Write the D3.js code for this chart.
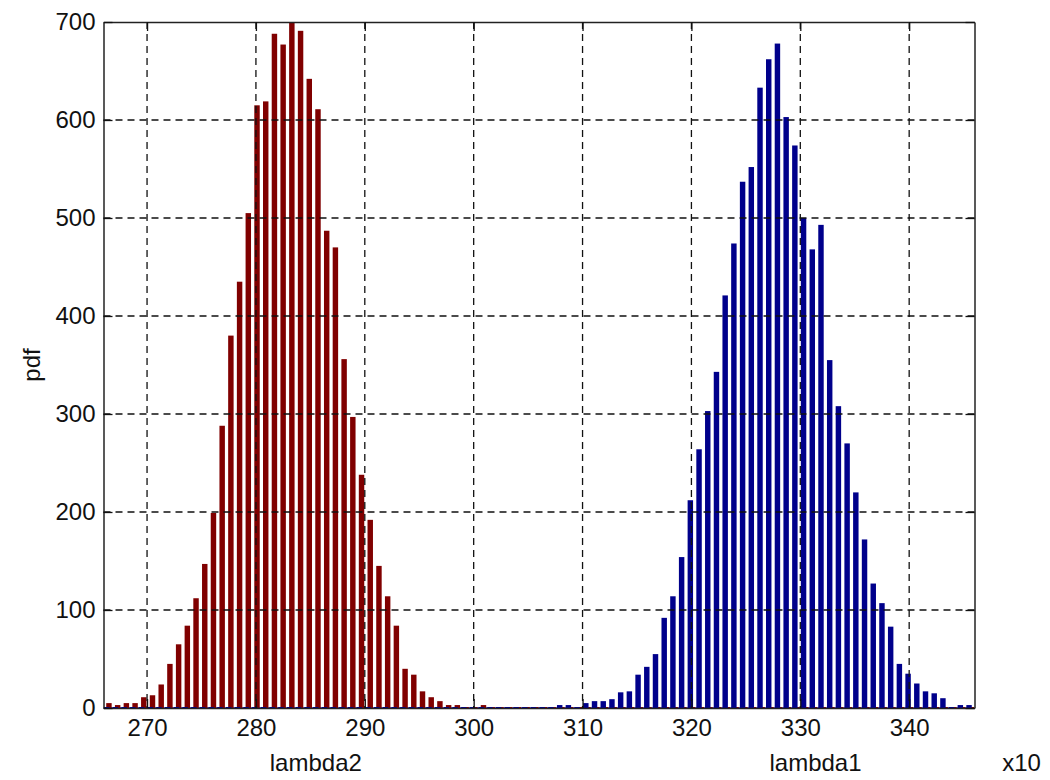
<!DOCTYPE html>
<html>
<head>
<meta charset="utf-8">
<script src="https://cdn.jsdelivr.net/npm/d3@7"></script>
<style>
  body { margin: 0; background: #fff; }
  svg text { font-family: "Liberation Sans", Arial, sans-serif; fill: #111; }
  .axis path { stroke: #222; stroke-width: 1.5; }
  .axis line { stroke: #111; stroke-width: 1.3; }
  .axis text { font-size: 24px; }
  .grid line { stroke: #111; stroke-width: 1.3; stroke-dasharray: 7,5; }
</style>
</head>
<body>
<svg width="1050" height="780"></svg>
<script>
// histogram bins: 100 bins of width 0.8, two sample sets
var binWidth = 0.8;
var redStart = 266.5;   // centre of first lambda2 bin
var blueStart = 266.3;  // centre of first lambda1 bin

var lambda2 = [5, 3, 5, 5, 11, 13, 24, 45, 65, 84,
    112, 147, 199, 288, 380, 435, 505, 615, 619, 688,
    677, 700, 691, 642, 611, 487, 470, 356, 297, 238,
    192, 145, 114, 84, 40, 34, 17, 11, 7, 3,
    3, 0, 0, 3, 0, 0, 0, 0, 0, 0,
    0, 0, 0, 0, 0, 0, 0, 0, 0, 0,
    0, 0, 0, 0, 0, 0, 0, 0, 0, 0,
    0, 0, 0, 0, 0, 0, 0, 0, 0, 0,
    0, 0, 0, 0, 0, 0, 0, 0, 0, 0,
    0, 0, 0, 0, 0, 0, 0, 0, 0, 0];

var lambda1 = [0, 0, 0, 0, 0, 0, 0, 0, 0, 0,
    0, 0, 0, 0, 0, 0, 0, 0, 0, 0,
    0, 0, 0, 0, 0, 0, 0, 0, 0, 0,
    0, 0, 0, 0, 0, 0, 0, 0, 0, 0,
    0, 0, 0, 0, 0, 0, 0, 0, 0, 0,
    0, 0, 3, 3, 0, 5, 7, 7, 9, 16,
    17, 34, 42, 55, 92, 114, 154, 212, 264, 303,
    343, 421, 474, 537, 552, 633, 662, 678, 603, 574,
    500, 468, 493, 355, 308, 270, 220, 172, 127, 107,
    83, 45, 35, 25, 17, 15, 10, 0, 3, 3];

var xTicks = [270, 280, 290, 300, 310, 320, 330, 340];
var yTicks = [0, 100, 200, 300, 400, 500, 600, 700];

var svg = d3.select("svg"),
    margin = {top: 22, right: 75.5, bottom: 72, left: 103.5},
    width = +svg.attr("width") - margin.left - margin.right,
    height = +svg.attr("height") - margin.top - margin.bottom;

var x = d3.scaleLinear().domain([266, 346]).range([0, width]),
    y = d3.scaleLinear().domain([0, 700]).range([height, 0]);

var g = svg.append("g")
    .attr("transform", "translate(" + margin.left + "," + margin.top + ")");

g.append("defs").append("clipPath").attr("id", "plot")
    .append("rect").attr("width", width).attr("height", height + 1);

var plot = g.append("g").attr("clip-path", "url(#plot)");

// baseline
plot.append("line")
    .attr("x1", 0).attr("x2", width)
    .attr("y1", y(0)).attr("y2", y(0))
    .attr("stroke", "#1a1a9a")
    .attr("stroke-width", 1.5);

function drawBars(values, start, color, cls) {
    var barW = x(start + 0.25) - x(start - 0.25);
    plot.selectAll("." + cls)
        .data(values)
        .enter().append("rect")
        .attr("class", cls)
        .attr("x", function (d, i) { return x(start + i * binWidth) - barW / 2; })
        .attr("y", function (d) { return Math.min(y(d), y(0) - 1); })
        .attr("width", barW)
        .attr("height", function (d) { return Math.max(y(0) - y(d), 1); })
        .attr("fill", color);
}

drawBars(lambda2, redStart, "#800000", "bar2");
drawBars(lambda1, blueStart, "#00008b", "bar1");

// dashed grid on top of the bars
g.append("g").attr("class", "grid")
    .selectAll("line").data(xTicks).enter().append("line")
    .attr("x1", function (d) { return x(d); })
    .attr("x2", function (d) { return x(d); })
    .attr("y1", 0).attr("y2", height);

g.append("g").attr("class", "grid")
    .selectAll("line").data(yTicks.slice(1, -1)).enter().append("line")
    .attr("x1", 0).attr("x2", width)
    .attr("y1", function (d) { return y(d); })
    .attr("y2", function (d) { return y(d); });

// box with inward ticks
g.append("g")
    .attr("class", "axis")
    .attr("transform", "translate(0," + height + ")")
    .call(d3.axisBottom(x).tickValues(xTicks).tickSize(-9).tickSizeOuter(0).tickPadding(11));

g.append("g")
    .attr("class", "axis")
    .call(d3.axisTop(x).tickValues(xTicks).tickSize(-9).tickSizeOuter(0).tickFormat(""));

g.append("g")
    .attr("class", "axis")
    .call(d3.axisLeft(y).tickValues(yTicks).tickSize(-9).tickSizeOuter(0).tickPadding(8));

g.append("g")
    .attr("class", "axis")
    .attr("transform", "translate(" + width + ",0)")
    .call(d3.axisRight(y).tickValues(yTicks).tickSize(-9).tickSizeOuter(0).tickFormat(""));

// labels
g.append("text")
    .attr("x", x(285.5)).attr("y", height + 63)
    .attr("text-anchor", "middle")
    .style("font-size", "24px")
    .text("lambda2");

g.append("text")
    .attr("x", x(331.4)).attr("y", height + 63)
    .attr("text-anchor", "middle")
    .style("font-size", "24px")
    .text("lambda1");

g.append("text")
    .attr("x", width + 47).attr("y", height + 63)
    .attr("text-anchor", "middle")
    .style("font-size", "24px")
    .text("x10");

g.append("text")
    .attr("transform", "translate(" + (-64) + "," + (height / 2) + ") rotate(-90)")
    .attr("text-anchor", "middle")
    .style("font-size", "24px")
    .text("pdf");
</script>
</body>
</html>
